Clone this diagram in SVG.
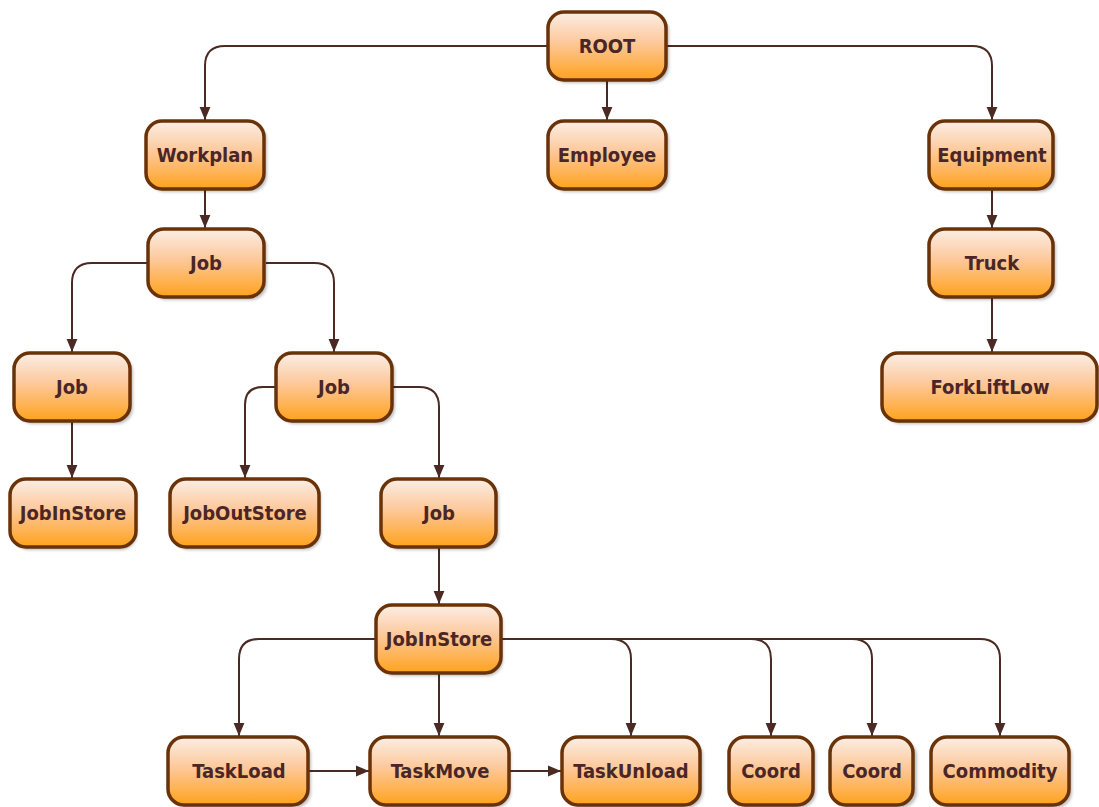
<svg xmlns="http://www.w3.org/2000/svg" width="1099" height="807" viewBox="0 0 1099 807">
<style>
.n rect.b{fill:url(#g);stroke:#6a3208;stroke-width:3.5}
.n rect.s{fill:#000;opacity:0.25;filter:url(#blur)}
.n text{font-family:"DejaVu Sans Condensed","DejaVu Sans",sans-serif;font-stretch:condensed;font-weight:bold;font-size:20px;fill:#4a2626;text-anchor:middle;dominant-baseline:central}
.c path{fill:none;stroke:#4a2a22;stroke-width:2;marker-end:url(#a)}
</style>
<defs>
<linearGradient id="g" x1="0" y1="0" x2="0" y2="1">
<stop offset="0" stop-color="#fbeee5"/>
<stop offset="0.45" stop-color="#fdc89a"/>
<stop offset="1" stop-color="#ffa21c"/>
</linearGradient>
<filter id="blur" x="-10%" y="-10%" width="130%" height="130%"><feGaussianBlur stdDeviation="1.5"/></filter>
<marker id="a" viewBox="0 0 10 10" refX="10" refY="5" markerWidth="13" markerHeight="12" markerUnits="userSpaceOnUse" orient="auto" preserveAspectRatio="none">
<path d="M0,0.5 L10,5 L0,9.5 Z" fill="#4a2a22"/>
</marker>
</defs>
<rect width="1099" height="807" fill="#fff"/>
<g class="c">
<path d="M548,46 H225 Q205,46 205,66 V120"/>
<path d="M607,80 V120"/>
<path d="M667,46 H972 Q992,46 992,66 V120"/>
<path d="M205,189 V228"/>
<path d="M992,189 V228"/>
<path d="M148,263 H92 Q72,263 72,283 V352"/>
<path d="M266,263 H314 Q334,263 334,283 V352"/>
<path d="M992,297 V352"/>
<path d="M72,421 V478"/>
<path d="M275,387 H263 Q245,387 245,405 V478"/>
<path d="M393,387 H419 Q439,387 439,407 V478"/>
<path d="M439,547 V604"/>
<path d="M376,639 H259 Q239,639 239,659 V736"/>
<path d="M439,673 V736"/>
<path d="M502,639 H611 Q631,639 631,659 V736"/>
<path d="M502,639 H751 Q771,639 771,659 V736"/>
<path d="M502,639 H852 Q872,639 872,659 V736"/>
<path d="M502,639 H980 Q1000,639 1000,659 V736"/>
<path d="M309,771 H369"/>
<path d="M509,771 H561"/>
</g>
<g id="root" class="n"><rect class="s" x="551" y="15" width="118" height="68" rx="16"/><rect class="b" x="548" y="12" width="118" height="68" rx="16"/><text x="607" y="46">ROOT</text></g>
<g id="workplan" class="n"><rect class="s" x="149" y="124" width="118" height="68" rx="16"/><rect class="b" x="146" y="121" width="118" height="68" rx="16"/><text x="205" y="155">Workplan</text></g>
<g id="employee" class="n"><rect class="s" x="551" y="124" width="118" height="68" rx="16"/><rect class="b" x="548" y="121" width="118" height="68" rx="16"/><text x="607" y="155">Employee</text></g>
<g id="equipment" class="n"><rect class="s" x="932" y="124" width="124" height="68" rx="16"/><rect class="b" x="929" y="121" width="124" height="68" rx="16"/><text x="992" y="155">Equipment</text></g>
<g id="job1" class="n"><rect class="s" x="151" y="232" width="116" height="68" rx="16"/><rect class="b" x="148" y="229" width="116" height="68" rx="16"/><text x="206" y="263">Job</text></g>
<g id="truck" class="n"><rect class="s" x="932" y="232" width="124" height="68" rx="16"/><rect class="b" x="929" y="229" width="124" height="68" rx="16"/><text x="992" y="263">Truck</text></g>
<g id="job2" class="n"><rect class="s" x="17" y="356" width="116" height="68" rx="16"/><rect class="b" x="14" y="353" width="116" height="68" rx="16"/><text x="72" y="387">Job</text></g>
<g id="job3" class="n"><rect class="s" x="279" y="356" width="116" height="68" rx="16"/><rect class="b" x="276" y="353" width="116" height="68" rx="16"/><text x="334" y="387">Job</text></g>
<g id="forkliftlow" class="n"><rect class="s" x="885" y="356" width="213" height="68" rx="16"/><rect class="b" x="882" y="353" width="215" height="68" rx="16"/><text x="990" y="387">ForkLiftLow</text></g>
<g id="jobinstore1" class="n"><rect class="s" x="13" y="482" width="124" height="68" rx="16"/><rect class="b" x="10" y="479" width="126" height="68" rx="16"/><text x="73" y="513">JobInStore</text></g>
<g id="joboutstore" class="n"><rect class="s" x="173" y="482" width="148" height="68" rx="16"/><rect class="b" x="170" y="479" width="149" height="68" rx="16"/><text x="245" y="513">JobOutStore</text></g>
<g id="job4" class="n"><rect class="s" x="384" y="482" width="115" height="68" rx="16"/><rect class="b" x="381" y="479" width="115" height="68" rx="16"/><text x="439" y="513">Job</text></g>
<g id="jobinstore2" class="n"><rect class="s" x="379" y="608" width="124" height="68" rx="16"/><rect class="b" x="376" y="605" width="125" height="68" rx="16"/><text x="439" y="639">JobInStore</text></g>
<g id="taskload" class="n"><rect class="s" x="171" y="740" width="140" height="68" rx="16"/><rect class="b" x="168" y="737" width="140" height="68" rx="16"/><text x="239" y="771">TaskLoad</text></g>
<g id="taskmove" class="n"><rect class="s" x="373" y="740" width="138" height="68" rx="16"/><rect class="b" x="370" y="737" width="139" height="68" rx="16"/><text x="440" y="771">TaskMove</text></g>
<g id="taskunload" class="n"><rect class="s" x="565" y="740" width="138" height="68" rx="16"/><rect class="b" x="562" y="737" width="138" height="68" rx="16"/><text x="631" y="771">TaskUnload</text></g>
<g id="coord1" class="n"><rect class="s" x="732" y="740" width="84" height="68" rx="16"/><rect class="b" x="729" y="737" width="84" height="68" rx="16"/><text x="771" y="771">Coord</text></g>
<g id="coord2" class="n"><rect class="s" x="833" y="740" width="84" height="68" rx="16"/><rect class="b" x="830" y="737" width="83" height="68" rx="16"/><text x="872" y="771">Coord</text></g>
<g id="commodity" class="n"><rect class="s" x="934" y="740" width="138" height="68" rx="16"/><rect class="b" x="931" y="737" width="138" height="68" rx="16"/><text x="1000" y="771">Commodity</text></g>
</svg>
